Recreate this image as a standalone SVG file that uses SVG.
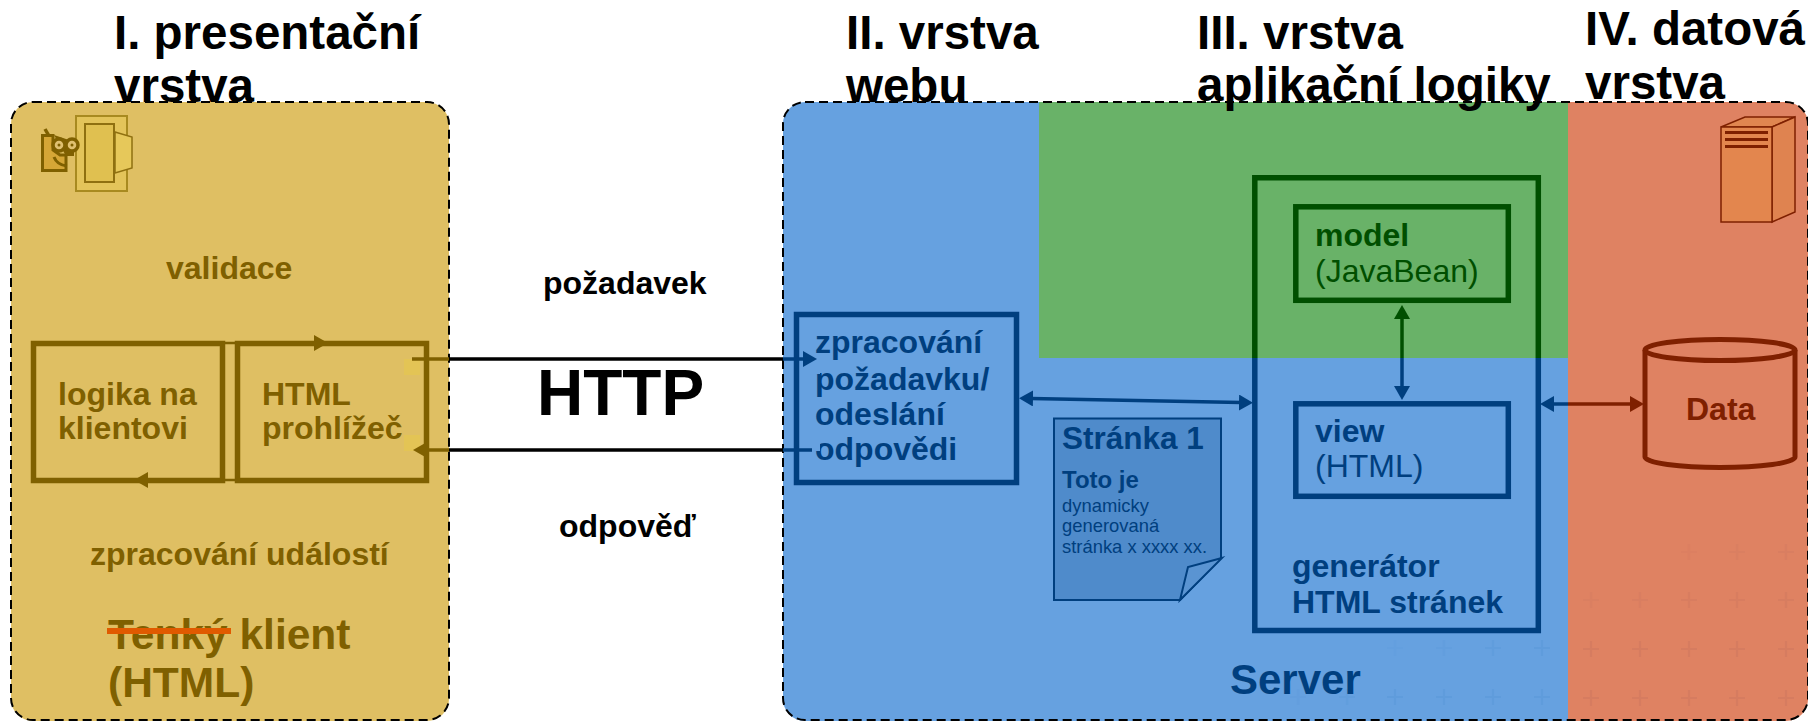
<svg xmlns="http://www.w3.org/2000/svg" xmlns:xlink="http://www.w3.org/1999/xlink" width="1808" height="721" viewBox="0 0 1808 721">
<style>
text{font-family:"Liberation Sans",Arial,sans-serif;font-size:32px;font-weight:700}
.t{font-size:47.5px;fill:#000}
.y{fill:#7f6000}.b{fill:#003f7f}.g{fill:#004f00}.r{fill:#7f2000}.k{fill:#000}
.n{font-weight:400}
.box{fill:none;stroke-width:5.5}
.ys{stroke:#7f6000}.bs{stroke:#003f7f}.gs{stroke:#004f00}.rs{stroke:#7f2000}.ks{stroke:#000}
.c{fill:none;stroke-width:3.5}
.dash{fill:none;stroke:#000;stroke-width:2;stroke-dasharray:9 5}
.pb{stroke:#5f9cdc;stroke-width:2.2;fill:none}
.po{stroke:#d67c60;stroke-width:2.2;fill:none}
.big{font-size:42.5px}
.sm{font-size:18.4px}
</style>
<defs>
<marker id="hy" markerUnits="userSpaceOnUse" markerWidth="16" markerHeight="18" refX="2" refY="8" orient="auto-start-reverse"><path d="M0 0L14 8L0 16Z" fill="#7f6000"/></marker>
<marker id="hb" markerUnits="userSpaceOnUse" markerWidth="16" markerHeight="18" refX="2" refY="8" orient="auto-start-reverse"><path d="M0 0L14 8L0 16Z" fill="#003f7f"/></marker>
<marker id="hg" markerUnits="userSpaceOnUse" markerWidth="16" markerHeight="18" refX="2" refY="8" orient="auto-start-reverse"><path d="M0 0L14 8L0 16Z" fill="#004f00"/></marker>
<marker id="hr" markerUnits="userSpaceOnUse" markerWidth="16" markerHeight="18" refX="2" refY="8" orient="auto-start-reverse"><path d="M0 0L14 8L0 16Z" fill="#7f2000"/></marker>
<path id="plus" d="M-8 0H8M0 -8V8"/>
</defs>

<g id="panels">
<rect id="panel-client" x="11" y="102" width="438" height="619" rx="22" fill="#dfbf63"/>
<path id="panel-web" d="M1040 102H805a22 22 0 0 0-22 22V698a22 22 0 0 0 22 23H1568V102Z" fill="#66a1e0"/>
<rect id="panel-app" x="1039" y="102" width="529" height="256" fill="#69b268"/>
<path id="panel-data" d="M1568 102H1786a22 22 0 0 1 22 22V698a22 22 0 0 1-22 23H1568Z" fill="#df8262"/>
<g id="plus-pattern">
<g class="pb">
<use href="#plus" x="1395" y="648" opacity=".35"/><use href="#plus" x="1444" y="648" opacity=".6"/><use href="#plus" x="1493" y="648" opacity=".8"/><use href="#plus" x="1542" y="648"/>
<use href="#plus" x="1298" y="697" opacity=".5"/><use href="#plus" x="1347" y="697" opacity=".7"/><use href="#plus" x="1395" y="697"/><use href="#plus" x="1444" y="697"/><use href="#plus" x="1493" y="697"/><use href="#plus" x="1542" y="697"/>
</g>
<g class="po">
<use href="#plus" x="1689" y="552" opacity=".3"/><use href="#plus" x="1737" y="552" opacity=".5"/><use href="#plus" x="1786" y="552" opacity=".6"/>
<use href="#plus" x="1591" y="600" opacity=".5"/><use href="#plus" x="1640" y="600" opacity=".6"/><use href="#plus" x="1689" y="600" opacity=".8"/><use href="#plus" x="1737" y="600" opacity=".8"/><use href="#plus" x="1786" y="600" opacity=".9"/>
<use href="#plus" x="1591" y="649"/><use href="#plus" x="1640" y="649"/><use href="#plus" x="1689" y="649"/><use href="#plus" x="1737" y="649"/><use href="#plus" x="1786" y="649"/>
<use href="#plus" x="1591" y="698"/><use href="#plus" x="1640" y="698"/><use href="#plus" x="1689" y="698"/><use href="#plus" x="1737" y="698"/><use href="#plus" x="1786" y="698"/>
</g>
</g>
<rect class="dash" x="11" y="102" width="438" height="618" rx="22"/>
<rect class="dash" x="783" y="102" width="1025" height="618" rx="22"/>
</g>

<g id="titles">
<text class="t" x="114" y="49">I. presentační</text>
<text class="t" x="114" y="102">vrstva</text>
<text class="t" x="846" y="49">II. vrstva</text>
<text class="t" x="846" y="102">webu</text>
<text class="t" x="1197" y="49">III. vrstva</text>
<text class="t" x="1197" y="101">aplikační logiky</text>
<text class="t" x="1585" y="45">IV. datová</text>
<text class="t" x="1585" y="99">vrstva</text>
</g>

<g id="browser-icon">
<rect x="76" y="116" width="51" height="75" fill="#e3c45a" stroke="#a88a20" stroke-width="2"/>
<rect x="85" y="124" width="29" height="58" fill="#e0c050" stroke="#8f7010" stroke-width="2"/>
<path d="M115 132L132 137V168L115 173Z" fill="#e6c85a" stroke="#8f7010" stroke-width="1.500"/>
<path d="M42.500 135.500H53V150L60 155H66V170.500H42.500Z" fill="#d5a636" stroke="#7f6000" stroke-width="3"/>
<path d="M45 129L49 136" stroke="#7f6000" stroke-width="3.500" fill="none"/>
<path d="M54 135L66 139L74 142V156H66Z" fill="#7f6000"/>
<path d="M54 157Q57 165 67 166" stroke="#7f6000" stroke-width="3" fill="none"/>
<circle cx="59" cy="145" r="6" fill="#dfc070" stroke="#7f6000" stroke-width="3.500"/>
<circle cx="72" cy="145" r="6" fill="#dfc070" stroke="#7f6000" stroke-width="3.500"/>
<circle cx="59" cy="145" r="1.500" fill="#7f6000"/>
<circle cx="72" cy="145" r="1.500" fill="#7f6000"/>
</g>
<text id="label-validace" class="y" x="166" y="279">validace</text>

<g id="node-logika">
<rect class="box ys" x="33.500" y="343.500" width="189" height="137"/>
<text class="y" x="58" y="405">logika na</text>
<text class="y" x="58" y="439">klientovi</text>
</g>
<g id="node-prohlizec">
<rect class="box ys" x="237.500" y="343.500" width="189" height="137"/>
<rect x="404" y="359" width="16" height="16" fill="#e3c455"/>
<rect x="404" y="435" width="16" height="16" fill="#e3c455"/>
<text class="y" x="262" y="405">HTML</text>
<text class="y" x="262" y="439">prohlížeč</text>
</g>
<text id="label-udalosti" class="y" x="90" y="565">zpracování událostí</text>
<g id="label-klient">
<text class="y big" x="108" y="649">Tenký klient</text>
<text class="y big" x="108" y="697">(HTML)</text>
<rect x="107" y="628" width="124" height="6" fill="#e05a00"/>
</g>

<text id="label-pozadavek" class="k" x="543" y="294">požadavek</text>
<text id="label-http" class="k" style="font-size:64px" x="537" y="415">HTTP</text>
<text id="label-odpoved" class="k" x="559" y="537">odpověď</text>

<g id="node-zpracovani">
<rect class="box bs" x="796.500" y="314.500" width="220" height="168"/>
<text class="b" x="815" y="353">zpracování</text>
<text class="b" x="815" y="390">požadavku/</text>
<text class="b" x="815" y="425">odeslání</text>
<text class="b" x="815" y="460">odpovědi</text>
<rect x="806" y="359" width="14" height="15" fill="#66a1e0"/>
<rect x="806" y="435" width="14" height="16" fill="#66a1e0"/>
</g>

<g id="node-stranka">
<path d="M1054 418.500H1221V558L1180 600H1054Z" fill="#4f8bcb" stroke="#003f7f" stroke-width="2"/>
<path d="M1180 600L1188 567L1222 558Z" fill="#5a94d2" stroke="#003f7f" stroke-width="2"/>
<text class="b" style="font-size:31.500px" x="1062" y="449">Stránka 1</text>
<text class="b" style="font-size:24px" x="1062" y="488">Toto je</text>
<text class="b n sm" x="1062" y="512">dynamicky</text>
<text class="b n sm" x="1062" y="532">generovaná</text>
<text class="b n sm" x="1062" y="553">stránka x xxxx xx.</text>
</g>

<g id="node-generator">
<path class="box bs" d="M1254.800 358V630.500H1538.300V358"/>
<path class="box gs" d="M1254.800 358V177.800H1538.300V358"/>
<text class="b" x="1292" y="577">generátor</text>
<text class="b" x="1292" y="613">HTML stránek</text>
</g>
<g id="node-model">
<rect class="box gs" x="1295.800" y="206.800" width="212.500" height="93.500"/>
<text class="g" x="1315" y="246">model</text>
<text class="g n" x="1315" y="282">(JavaBean)</text>
</g>
<g id="node-view">
<rect class="box bs" x="1295.800" y="403.800" width="212.500" height="92.500"/>
<text class="b" x="1315" y="442">view</text>
<text class="b n" x="1315" y="477">(HTML)</text>
</g>
<text id="label-server" class="b" style="font-size:42px" x="1230" y="694">Server</text>

<g id="node-server-icon">
<path d="M1721 127L1745 117H1795L1772 127Z" fill="#e08650" stroke="#7f2000" stroke-width="1.500"/>
<path d="M1772 127L1795 117V212L1772 222Z" fill="#df8350" stroke="#7f2000" stroke-width="1.500"/>
<rect x="1721" y="127" width="51" height="95" fill="#e3864e" stroke="#7f2000" stroke-width="1.500"/>
<path d="M1725 132.500H1768M1725 139.500H1768M1725 146.500H1768" stroke="#7f2000" stroke-width="3"/>
</g>
<g id="node-data">
<path d="M1645 350V457C1645 463 1680 467.500 1720 467.500S1795 463 1795 457V350" fill="none" stroke="#7f2000" stroke-width="5"/>
<ellipse cx="1720" cy="350" rx="75" ry="10.500" fill="none" stroke="#7f2000" stroke-width="5"/>
<text class="r" x="1686" y="420">Data</text>
</g>

<g id="connectors">
<path class="c ys" style="stroke-width:2.500" d="M225 343H235M225 480H235"/>
<path class="c ys" d="M238 343H316" marker-end="url(#hy)"/>
<path class="c ys" d="M224 480H146" marker-end="url(#hy)"/>
<path class="c ys" d="M412 359H449"/>
<path class="c ks" d="M449 359H783"/>
<path class="c bs" d="M783 359H805" marker-end="url(#hb)"/>
<path class="c bs" d="M812 450H783"/>
<path class="c ks" d="M783 450H449"/>
<path class="c ys" d="M449 450H425" marker-end="url(#hy)"/>
<path class="c bs" d="M1031 398.400L1241 402.600" marker-start="url(#hb)" marker-end="url(#hb)"/>
<path class="c gs" d="M1402 317V358" marker-start="url(#hg)"/>
<path class="c bs" d="M1402 358V388" marker-end="url(#hb)"/>
<path class="c bs" d="M1552 404H1568" marker-start="url(#hb)"/>
<path class="c rs" d="M1568 404H1632" marker-end="url(#hr)"/>
</g>
</svg>
